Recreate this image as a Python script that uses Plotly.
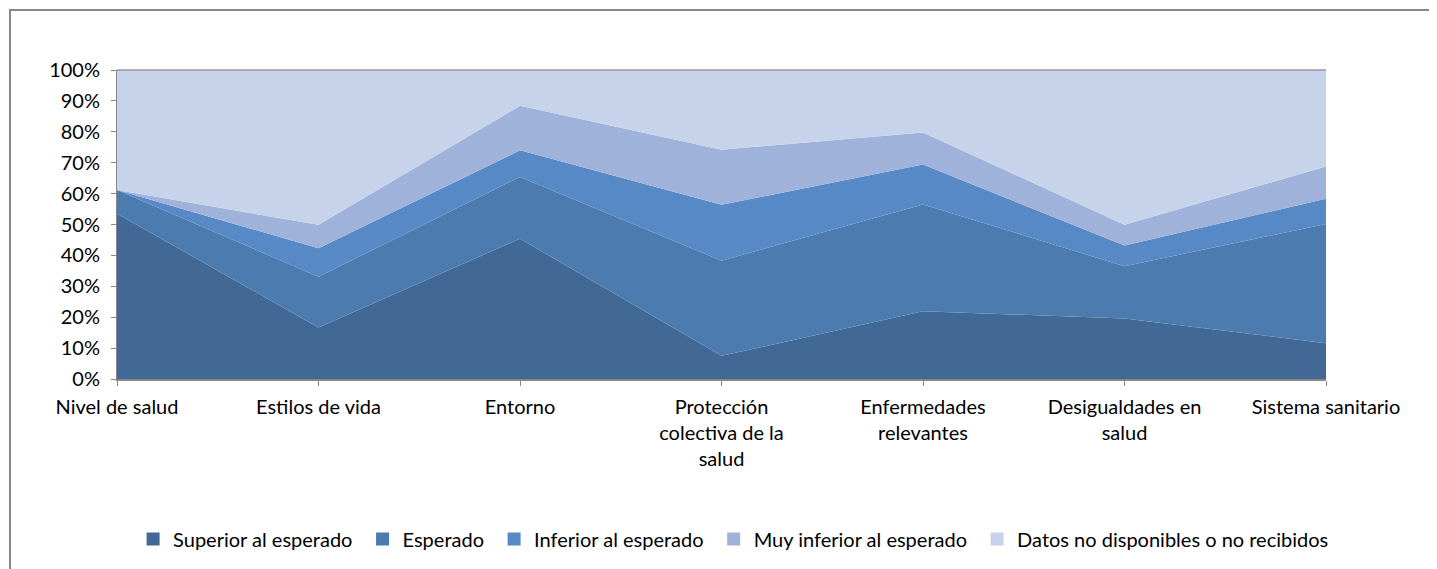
import plotly.graph_objects as go

categories = ["Nivel de salud", "Estilos de vida", "Entorno",
              "Protección<br>colectiva de la<br>salud", "Enfermedades<br>relevantes",
              "Desigualdades en<br>salud", "Sistema sanitario"]

superior = [53.5, 16.7, 45.4, 7.5, 21.9, 19.6, 11.6]
esperado = [7.7, 16.4, 20.0, 30.8, 34.6, 16.9, 38.6]
inferior = [0.0, 9.2, 8.6, 18.1, 12.9, 6.7, 8.1]
muy_inferior = [0.0, 7.6, 14.4, 17.8, 10.4, 6.7, 10.5]
no_datos = [38.8, 50.1, 11.6, 25.8, 20.2, 50.1, 31.2]

series = [
    ("Superior al esperado", superior, "#426995"),
    ("Esperado", esperado, "#4C7BB0"),
    ("Inferior al esperado", inferior, "#5689C6"),
    ("Muy inferior al esperado", muy_inferior, "#9FB3DA"),
    ("Datos no disponibles o no recibidos", no_datos, "#C6D3EA"),
]

xs = list(range(len(categories)))
PAD = "\u00a0" * 1

fig = go.Figure()
for name, vals, col in series:
    fig.add_trace(go.Scatter(
        x=xs, y=vals, name=name, stackgroup="one", mode="lines",
        line=dict(width=0, color=col), fillcolor=col, showlegend=False,
    ))
for i, (name, vals, col) in enumerate(series):
    label = name + (PAD if i < len(series) - 1 else "")
    fig.add_trace(go.Scatter(
        x=[None], y=[None], name=label, mode="markers",
        marker=dict(symbol="square", size=13, color=col), showlegend=True,
    ))

font = dict(family="Lato, 'Open Sans', sans-serif", size=20, color="#000000")

# page body has an 8px margin: plot area at x 117..1326, y 70..379
fig.update_layout(
    width=1437, height=569,
    margin=dict(l=109, r=119, t=62, b=198),
    paper_bgcolor="white", plot_bgcolor="white",
    font=font,
    showlegend=True,
    legend=dict(orientation="h", x=0.51, xanchor="center",
                y=-0.518, yanchor="middle",
                font=dict(size=20), itemwidth=30, traceorder="normal"),
    xaxis=dict(range=[0, 6], tickmode="array", tickvals=xs, ticktext=categories,
               showgrid=False, zeroline=False, showline=True, linecolor="#888888",
               linewidth=2, ticks="outside", ticklen=5, tickcolor="#888888",
               tickangle=0, fixedrange=True, ticklabelstandoff=4),
    yaxis=dict(range=[0, 100], dtick=10, ticksuffix="%", showgrid=False,
               zeroline=False, showline=True, linecolor="#888888", linewidth=1,
               ticks="outside", ticklen=5, tickcolor="#888888", fixedrange=True,
               ticklabelstandoff=7),
    shapes=[
        dict(type="rect", xref="paper", yref="paper",
             x0=(10 - 117) / 1209, x1=(1460 - 117) / 1209,
             y0=(379 - 600) / 309, y1=(379 - 10) / 309,
             line=dict(color="#888888", width=2), layer="below"),
        dict(type="line", xref="paper", yref="paper", x0=0, x1=1, y0=1, y1=1,
             line=dict(color="#999999", width=1.5)),
    ],
)

fig.write_html("out.html")
